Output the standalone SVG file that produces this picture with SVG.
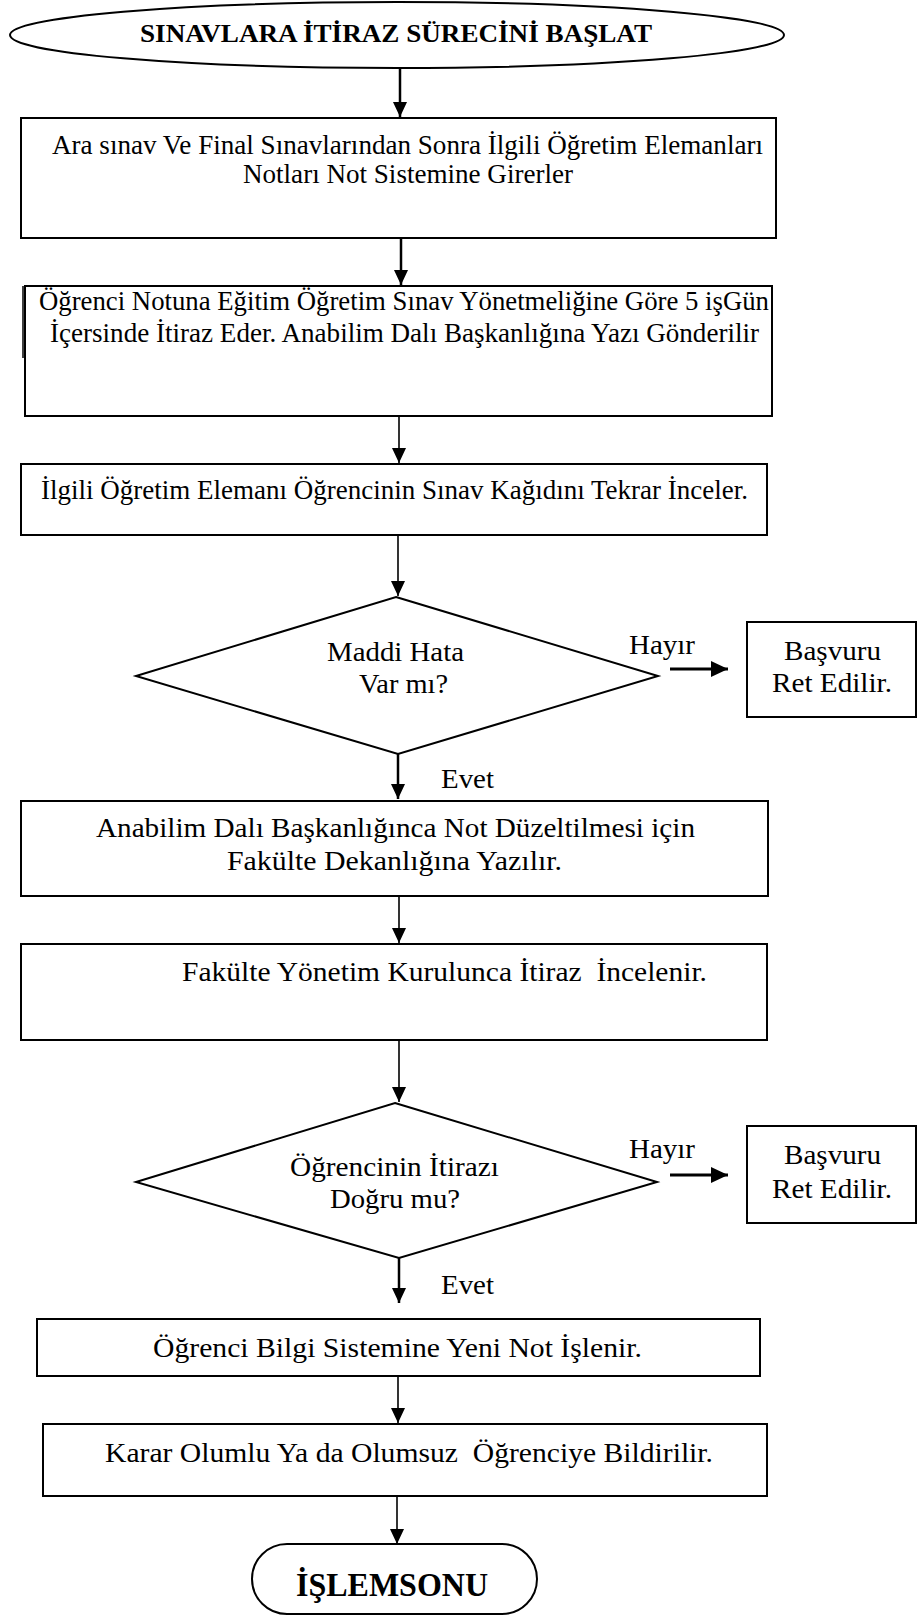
<svg xmlns="http://www.w3.org/2000/svg" width="924" height="1616" viewBox="0 0 924 1616">
  <style>
    .shape { fill: #fff; stroke: #000; stroke-width: 2; }
    .t { font-family: "Liberation Serif", "Times New Roman", serif; font-size: 27px; fill: #000; white-space: pre; }
    .tb { font-family: "Liberation Serif", "Times New Roman", serif; font-weight: bold; fill: #000; white-space: pre; }
    .flow { stroke: #000; stroke-width: 1.6; fill: none; marker-end: url(#head); }
    .flow.thick { stroke-width: 2.5; }
    .flow.side { stroke-width: 3.2; marker-end: url(#head-side); }
  </style>
  <defs>
    <marker id="head" markerUnits="userSpaceOnUse" markerWidth="16" markerHeight="15" refX="15" refY="7" orient="auto">
      <path d="M0,0 L15,7 L0,14 Z" fill="#000"/>
    </marker>
    <marker id="head-side" markerUnits="userSpaceOnUse" markerWidth="18" markerHeight="17" refX="17" refY="8" orient="auto">
      <path d="M0,0 L17,8 L0,16 Z" fill="#000"/>
    </marker>
  </defs>

  <rect width="924" height="1616" fill="#fff"/>

  <!-- connectors -->
  <g id="connectors">
    <line class="flow thick" x1="400" y1="68" x2="400" y2="117"/>
    <line class="flow thick" x1="401" y1="238" x2="401" y2="285"/>
    <line class="flow" x1="399" y1="416" x2="399" y2="463"/>
    <line class="flow" x1="398" y1="535" x2="398" y2="596"/>
    <line class="flow thick" x1="398" y1="754" x2="398" y2="799"/>
    <line class="flow" x1="399" y1="896" x2="399" y2="943"/>
    <line class="flow" x1="399" y1="1040" x2="399" y2="1102"/>
    <line class="flow thick" x1="399" y1="1258" x2="399" y2="1303"/>
    <line class="flow" x1="398" y1="1376" x2="398" y2="1423"/>
    <line class="flow" x1="397" y1="1496" x2="397" y2="1544"/>
    <line class="flow side" x1="670" y1="669" x2="728" y2="669"/>
    <line class="flow side" x1="670" y1="1175" x2="728" y2="1175"/>
    <text class="t" x="629" y="654" textLength="66" lengthAdjust="spacingAndGlyphs">Hayır</text>
    <text class="t" x="629" y="1158" textLength="66" lengthAdjust="spacingAndGlyphs">Hayır</text>
    <text class="t" x="441" y="788" textLength="53" lengthAdjust="spacingAndGlyphs">Evet</text>
    <text class="t" x="441" y="1294" textLength="53" lengthAdjust="spacingAndGlyphs">Evet</text>
  </g>

  <!-- start terminal -->
  <g id="start">
    <ellipse class="shape" cx="397" cy="35" rx="387" ry="33"/>
    <text class="tb" x="140" y="42" font-size="26" textLength="512" lengthAdjust="spacingAndGlyphs">SINAVLARA İTİRAZ SÜRECİNİ BAŞLAT</text>
  </g>

  <g id="grades-entered">
    <rect class="shape" x="21" y="118" width="755" height="120"/>
    <text class="t" x="52" y="154" textLength="711" lengthAdjust="spacingAndGlyphs">Ara sınav Ve Final Sınavlarından Sonra İlgili Öğretim Elemanları</text>
    <text class="t" x="243" y="183" textLength="330" lengthAdjust="spacingAndGlyphs">Notları Not Sistemine Girerler</text>
  </g>

  <g id="student-objects">
    <rect class="shape" x="25" y="286" width="747" height="130"/>
    <line x1="23" y1="286" x2="23" y2="358" stroke="#000" stroke-width="1.5"/>
    <text class="t" x="39" y="310" textLength="730" lengthAdjust="spacingAndGlyphs">Öğrenci Notuna Eğitim Öğretim Sınav Yönetmeliğine Göre 5 işGün</text>
    <text class="t" x="50" y="342" textLength="709" lengthAdjust="spacingAndGlyphs">İçersinde İtiraz Eder. Anabilim Dalı Başkanlığına Yazı Gönderilir</text>
  </g>

  <g id="paper-review">
    <rect class="shape" x="21" y="464" width="746" height="71"/>
    <text class="t" x="41" y="499" textLength="707" lengthAdjust="spacingAndGlyphs">İlgili Öğretim Elemanı Öğrencinin Sınav Kağıdını Tekrar İnceler.</text>
  </g>

  <g id="decision-error">
    <polygon class="shape" points="396,597 658,676 398,754 136,676"/>
    <text class="t" x="327" y="661" textLength="137" lengthAdjust="spacingAndGlyphs">Maddi Hata</text>
    <text class="t" x="359" y="693" textLength="89" lengthAdjust="spacingAndGlyphs">Var mı?</text>
  </g>

  <g id="rejected-1">
    <rect class="shape" x="747" y="622" width="169" height="95"/>
    <text class="t" x="784" y="660" textLength="97" lengthAdjust="spacingAndGlyphs">Başvuru</text>
    <text class="t" x="772" y="692" textLength="120" lengthAdjust="spacingAndGlyphs">Ret Edilir.</text>
  </g>

  <g id="department-letter">
    <rect class="shape" x="21" y="801" width="747" height="95"/>
    <text class="t" x="96" y="837" textLength="599" lengthAdjust="spacingAndGlyphs">Anabilim Dalı Başkanlığınca Not Düzeltilmesi için</text>
    <text class="t" x="227" y="870" textLength="335" lengthAdjust="spacingAndGlyphs">Fakülte Dekanlığına Yazılır.</text>
  </g>

  <g id="board-review">
    <rect class="shape" x="21" y="944" width="746" height="96"/>
    <text class="t" x="182" y="981" textLength="525" lengthAdjust="spacingAndGlyphs">Fakülte Yönetim Kurulunca İtiraz  İncelenir.</text>
  </g>

  <g id="decision-valid">
    <polygon class="shape" points="395,1103 657,1182 399,1258 136,1182"/>
    <text class="t" x="290" y="1176" textLength="209" lengthAdjust="spacingAndGlyphs">Öğrencinin İtirazı</text>
    <text class="t" x="330" y="1208" textLength="130" lengthAdjust="spacingAndGlyphs">Doğru mu?</text>
  </g>

  <g id="rejected-2">
    <rect class="shape" x="747" y="1126" width="169" height="97"/>
    <text class="t" x="784" y="1164" textLength="97" lengthAdjust="spacingAndGlyphs">Başvuru</text>
    <text class="t" x="772" y="1198" textLength="120" lengthAdjust="spacingAndGlyphs">Ret Edilir.</text>
  </g>

  <g id="new-grade">
    <rect class="shape" x="37" y="1319" width="723" height="57"/>
    <text class="t" x="153" y="1357" textLength="489" lengthAdjust="spacingAndGlyphs">Öğrenci Bilgi Sistemine Yeni Not İşlenir.</text>
  </g>

  <g id="notify-student">
    <rect class="shape" x="43" y="1424" width="724" height="72"/>
    <text class="t" x="105" y="1462" textLength="608" lengthAdjust="spacingAndGlyphs">Karar Olumlu Ya da Olumsuz  Öğrenciye Bildirilir.</text>
  </g>

  <!-- end terminal -->
  <g id="end">
    <rect class="shape" x="252" y="1544" width="285" height="70" rx="35" ry="35"/>
    <text class="tb" x="296" y="1596" font-size="33" textLength="192" lengthAdjust="spacingAndGlyphs">İŞLEMSONU</text>
  </g>
</svg>
